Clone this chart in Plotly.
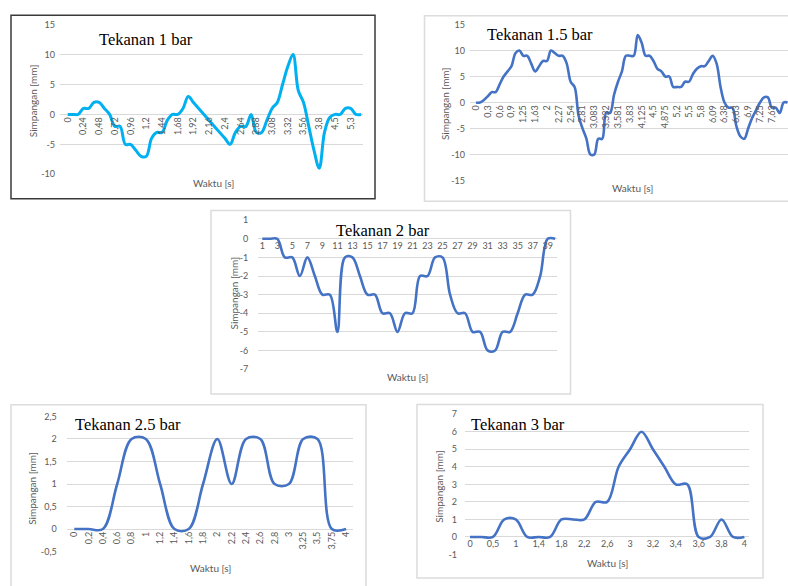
import plotly.graph_objects as go

W, H = 788, 586

# ---------------- data ----------------
# Tekanan 1 bar
t1_labels = ["0", "0,24", "0,48", "0,72", "0,96", "1,2", "1,44", "1,68", "1,92", "2,16",
             "2,4", "2,64", "2,88", "3,08", "3,32", "3,56", "3,8", "4,5", "5,3"]
s1 = [0, 0, 0, 1, 1, 2, 2, 1, 0, -2,
      -2, -5, -5, -6, -7, -7, -4, -3, -3, -1,
      0, 0, 1, 3, 2, 1, 0, -1, -2, -3,
      -4, -5, -3, -2, -2, 0, -3, -3, -1, 1,
      2, 5, 8, 10, 4, 2, -2, -6, -9, -3,
      -0.5, 0, 0, 1, 1, 0, 0]

# Tekanan 1.5 bar
t2_labels = ["0", "0,3", "0,6", "0,9", "1,25", "1,63", "2", "2,27", "2,54", "2,81",
             "3,083", "3,332", "3,581", "3,83", "4,125", "4,5", "4,875", "5,2", "5,5", "5,8",
             "6,09", "6,38", "6,63", "6,9", "7,25", "7,63", "8"]
s2 = [0, 0, 0.5, 1.2, 2, 2, 3.5, 5, 6, 7,
      9.5, 10, 9, 9, 7.5, 6, 7, 8, 8, 10,
      9.5, 9, 9, 7.5, 4, 3, -2.5, -5, -7, -10,
      -10, -7, -7, -2, -2, 1.5, 4, 6, 9, 9,
      9, 13, 11.5, 9, 9, 8, 6.5, 6, 5, 5,
      3, 3, 3, 4, 4, 5.5, 6.5, 7, 7, 8,
      9, 7.5, 3, 0, -1, -1, -4.5, -6.5, -7, -5,
      -3, -1.5, 0, 1, 1, -1, -1, -2, 0, 0]

# Tekanan 2 bar
t3_samples = list(range(1, 41))
s3 = [0, 0, 0, -1, -1, -2, -1, -2, -3, -3,
      -5, -1, -1, -2, -3, -3, -4, -4, -5, -4,
      -4, -2, -2, -1, -1, -3, -4, -4, -5, -5,
      -6, -6, -5, -5, -4, -3, -3, -2, 0, 0]

# Tekanan 2.5 bar
t4_labels = ["0", "0,2", "0,4", "0,6", "0,8", "1", "1,2", "1,4", "1,6", "1,8",
             "2", "2,2", "2,4", "2,6", "2,8", "3", "3,25", "3,5", "3,75", "4"]
s4 = [0, 0, 0, 1, 2, 2, 1, 0, 0, 1, 2, 1, 2, 2, 1, 1, 2, 2, 0, 0]

# Tekanan 3 bar
t5_labels = ["0", "0,5", "1", "1,4", "1,8", "2,2", "2,6", "3", "3,2", "3,4", "3,6", "3,8", "4"]
s5 = [0, 0, 0, 1, 1, 0, 0, 0, 1, 1, 1, 2, 2, 4, 5, 6, 5, 4, 3, 3, 0, 0, 1, 0, 0]

# y-axis ticks per chart
y1_ticks = [-10, -5, 0, 5, 10, 15]
y2_ticks = [-15, -10, -5, 0, 5, 10, 15]
y3_ticks = [-7, -6, -5, -4, -3, -2, -1, 0, 1]
y4_ticks = [-0.5, 0, 0.5, 1, 1.5, 2, 2.5]
y5_ticks = [-1, 0, 1, 2, 3, 4, 5, 6, 7]

titles = ["Tekanan 1 bar", "Tekanan 1.5 bar", "Tekanan 2 bar", "Tekanan 2.5 bar", "Tekanan 3 bar"]

# ---------------- layout helpers ----------------
GRAY = "#595959"
GRID = "#d9d9d9"
TICK_FONT = dict(family="Lato, Open Sans, sans-serif", size=9, color=GRAY)


def fx(px):
    return px / W


def fy(py):
    return 1 - py / H


def fmt(v):
    return ("%g" % v).replace(".", ",")


fig = go.Figure()
annotations = []
shapes = []


def add_panel(k, x, y, color, lw, box, plot, xrange, yticks, tickvals, ticktext,
              tickangle, title_pos, ytitle_pos, xtitle_pos, box_color, box_w, ystandoff):
    xa = "x" if k == 1 else "x%d" % k
    ya = "y" if k == 1 else "y%d" % k
    fig.add_trace(go.Scatter(x=x, y=y, mode="lines",
                             line=dict(color=color, width=lw, shape="spline", smoothing=1),
                             xaxis=xa, yaxis=ya, showlegend=False, hoverinfo="skip"))
    left, top, right, bottom = plot
    yr = [yticks[0], yticks[-1]]
    # pixel row of the zero line, used to hang the time labels on it
    zero_py = top + (yr[1] - 0) / (yr[1] - yr[0]) * (bottom - top)
    key = "" if k == 1 else str(k)
    fig.layout["xaxis" + key] = dict(
        domain=[fx(left), fx(right)], range=xrange, anchor="free", position=fy(zero_py),
        showgrid=False, zeroline=False, showline=False, ticks="",
        tickmode="array", tickvals=tickvals, ticktext=ticktext, tickangle=tickangle,
        tickfont=TICK_FONT, fixedrange=True)
    fig.layout["yaxis" + key] = dict(
        domain=[fy(bottom), fy(top)], range=yr, anchor=xa,
        showgrid=True, gridcolor=GRID, gridwidth=1, zeroline=False, showline=False,
        ticks="", tickmode="array", tickvals=yticks, ticktext=[fmt(v) for v in yticks],
        tickfont=TICK_FONT, ticklabelstandoff=ystandoff, fixedrange=True)
    bx0, by0, bx1, by1 = box
    shapes.append(dict(type="rect", xref="paper", yref="paper",
                       x0=fx(bx0), x1=fx(bx1), y0=fy(by1), y1=fy(by0),
                       line=dict(color=box_color, width=box_w), layer="below"))
    annotations.append(dict(text=titles[k - 1], xref="paper", yref="paper",
                            x=fx(title_pos[0]), y=fy(title_pos[1]), xanchor="left", yanchor="middle",
                            showarrow=False,
                            font=dict(family="Liberation Serif, Times New Roman, serif", size=16.5,
                                      color="#000000")))
    annotations.append(dict(text="Simpangan [mm]", xref="paper", yref="paper", textangle=-90,
                            x=fx(ytitle_pos[0]), y=fy(ytitle_pos[1]), xanchor="center", yanchor="middle",
                            showarrow=False, font=dict(family="Lato, Open Sans, sans-serif", size=10, color=GRAY)))
    annotations.append(dict(text="Waktu [s]", xref="paper", yref="paper",
                            x=fx(xtitle_pos[0]), y=fy(xtitle_pos[1]), xanchor="center", yanchor="middle",
                            showarrow=False, font=dict(family="Lato, Open Sans, sans-serif", size=10, color=GRAY)))


CYAN = "#00B0F0"
BLUE = "#4472C4"

# Tekanan 1 bar
add_panel(1, list(range(len(s1))), s1, CYAN, 3,
          box=(11, 9.5, 375, 196.5), plot=(60, 19, 363, 171.5),
          xrange=[-1.47, 56.35], yticks=y1_ticks,
          tickvals=list(range(0, 3 * len(t1_labels), 3)), ticktext=t1_labels, tickangle=-90,
          title_pos=(97, 34), ytitle_pos=(33, 97), xtitle_pos=(213, 180),
          box_color="#3a3a3a", box_w=1.5, ystandoff=4)

# Tekanan 1.5 bar
add_panel(2, list(range(len(s2))), s2, BLUE, 2.6,
          box=(424.5, 10, 795, 199), plot=(470, 19, 788, 177.7),
          xrange=[-1.52, 79.1], yticks=y2_ticks,
          tickvals=list(range(0, 3 * len(t2_labels), 3)), ticktext=t2_labels, tickangle=-90,
          title_pos=(485, 29), ytitle_pos=(445, 100), xtitle_pos=(632, 185),
          box_color="#dcdcdc", box_w=1.5, ystandoff=4)

# Tekanan 2 bar
add_panel(3, t3_samples, s3, BLUE, 2.6,
          box=(211, 208.3, 570.5, 395.5), plot=(258.3, 218.3, 557.3, 370),
          xrange=[0.47, 40.28], yticks=y3_ticks,
          tickvals=t3_samples[::2], ticktext=[str(v) for v in t3_samples[::2]], tickangle=0,
          title_pos=(334, 228.5), ytitle_pos=(233, 293), xtitle_pos=(407, 378),
          box_color="#dcdcdc", box_w=1.5, ystandoff=9)

# Tekanan 2.5 bar
add_panel(4, list(range(len(s4))), s4, BLUE, 2.6,
          box=(11, 406.5, 366, 592), plot=(66.7, 418.3, 353.3, 556),
          xrange=[-0.53, 19.5], yticks=y4_ticks,
          tickvals=list(range(len(t4_labels))), ticktext=t4_labels, tickangle=-90,
          title_pos=(73, 427), ytitle_pos=(32, 492), xtitle_pos=(210, 573),
          box_color="#dcdcdc", box_w=1.5, ystandoff=9)

# Tekanan 3 bar
add_panel(5, list(range(len(s5))), s5, BLUE, 2.6,
          box=(417, 406, 763, 583), plot=(465, 416, 749.3, 559),
          xrange=[-0.44, 24.43], yticks=y5_ticks,
          tickvals=list(range(0, 2 * len(t5_labels), 2)), ticktext=t5_labels, tickangle=0,
          title_pos=(469, 427), ytitle_pos=(439, 490), xtitle_pos=(607, 568),
          box_color="#dcdcdc", box_w=1.5, ystandoff=7)

fig.update_layout(width=W, height=H, margin=dict(l=0, r=0, t=0, b=0),
                  paper_bgcolor="white", plot_bgcolor="white",
                  annotations=annotations, shapes=shapes, showlegend=False)

fig.write_html("out.html", config={"displayModeBar": False})
